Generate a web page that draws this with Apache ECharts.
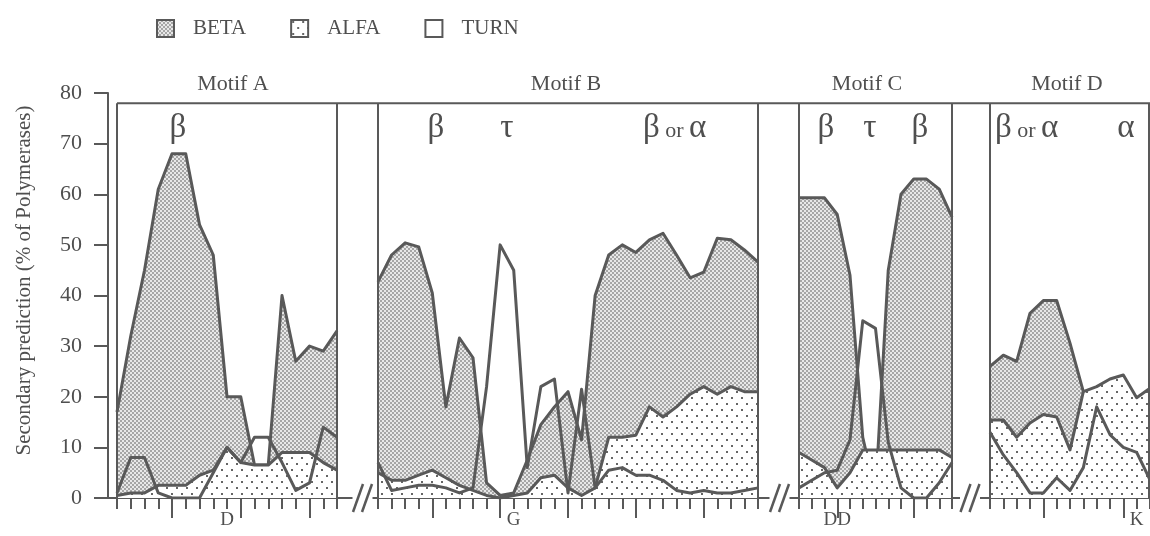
<!DOCTYPE html>
<html>
<head>
<meta charset="utf-8">
<title>Secondary prediction of polymerase motifs</title>
<script src="https://cdn.jsdelivr.net/npm/echarts@6/dist/echarts.min.js"></script>
<style>
  html, body { margin: 0; padding: 0; background: #fff; }
  #chart { width: 1150px; height: 536px; }
</style>
</head>
<body>
<div id="chart"></div>
<script>
// ---- data (% of polymerases) ----
const seriesNames = ["BETA", "ALFA", "TURN"];
const motifNames = ["Motif A", "Motif B", "Motif C", "Motif D"];
const yTicks = [0, 10, 20, 30, 40, 50, 60, 70, 80];

const betaA = [17, 32, 45, 61, 68, 68, 54, 48, 20, 20, 6.5, 6.5, 40, 27, 30, 29, 33];
const alfaA = [0.5, 1, 1, 2.5, 2.5, 2.5, 4.5, 5.5, 10, 7, 6.5, 6.5, 9, 9, 9, 7, 5.5];
const turnA = [1, 8, 8, 1, 0, 0, 0, 5, 10, 7, 12, 12, 7, 1.5, 3, 14, 12];

const betaB = [42.7, 48, 50.4, 49.6, 40.5, 18, 31.6, 27.7, 3, 0.5, 1, 7.5, 14.5, 18, 21, 11.5,
  40, 48, 50, 48.5, 51, 52.3, 48, 43.5, 44.6, 51.3, 51, 49, 46.6];
const alfaB = [5, 3.5, 3.5, 4.5, 5.5, 4, 2.5, 1.5, 0.5, 0, 0.5, 1, 4, 4.5, 2, 0.5,
  2, 12, 12, 12.4, 18, 16, 18, 20.5, 22, 20.5, 22, 21, 21];
const turnB = [7, 1.5, 2, 2.5, 2.5, 2, 1, 2, 22, 50, 45, 6, 22, 23.5, 1, 21.5,
  2, 5.5, 6, 4.5, 4.5, 3.5, 1.5, 1, 1.5, 1, 1, 1.5, 2];

const betaC = [59.3, 59.3, 59.3, 56, 44, 12, 1, 45, 60, 63, 63, 61, 55.5];
const alfaC = [9, 7.5, 6, 2, 5, 9.5, 9.5, 9.5, 9.5, 9.5, 9.5, 9.5, 8];
const turnC = [2, 3.5, 5, 5.5, 11.5, 35, 33.5, 11, 2, 0, 0, 3, 7];

// beta runs under the alfa area after the 8th residue of motif D
const betaD = [26, 28.2, 27, 36.5, 39, 39, 30.6, 21, null, null, null, null, null];
const alfaD = [15.4, 15.4, 12, 14.8, 16.5, 16, 9.5, 21, 22, 23.5, 24.3, 19.8, 21.7];
const turnD = [13, 8.5, 5, 1, 1, 4, 1.5, 6, 18, 12.5, 10, 9, 3.6];

// residue marks under the axis
const residueLabels = ["D", "G", "DD", "K"];
const residueIndex = [8, 10, 3, 11];
const majorTicks = [[4, 9, 14], [4, 9, 14, 19, 24], [3, 9], [4, 10]];

// structure annotations written inside the panels
const annotations = [["β"], ["β", "τ", "β or α"], ["β", "τ", "β"], ["β or α", "α"]];

const betaData = [betaA, betaB, betaC, betaD];
const alfaData = [alfaA, alfaB, alfaC, alfaD];
const turnData = [turnA, turnB, turnC, turnD];

// ---- layout ----
const LINE = "#595959";
const TEXT = "#4f4f4f";
const SERIF = "'Liberation Serif', 'DejaVu Serif', serif";

const panelLeft = [117, 378, 799, 990];
const panelWidth = [220, 380, 153, 160];
const gridTop = 93;
const gridHeight = 405;
const frameTopValue = 78;
const motifX = [233, 566, 867, 1067];
const annotationX = [[178], [436, 507, 643], [826, 870, 920], [995, 1126]];
const breakShift = [5, 1, -1];

function yPix(v) {
  return gridTop + gridHeight * (1 - v / yTicks[yTicks.length - 1]);
}

function makePattern(w, h, bg, dots, size, color) {
  const c = document.createElement("canvas");
  c.width = w;
  c.height = h;
  const ctx = c.getContext("2d");
  ctx.fillStyle = bg;
  ctx.fillRect(0, 0, w, h);
  ctx.fillStyle = color;
  dots.forEach(([x, y]) => ctx.fillRect(x, y, size, size));
  return { image: c, repeat: "repeat" };
}

const densePattern = makePattern(4, 4, "#e8e8e8", [[0, 0], [2, 2]], 2, "#a6a6a6");
const sparsePattern = makePattern(10, 12, "#ffffff", [[1, 1], [6, 7]], 2, "#666666");
const fills = [densePattern, sparsePattern, "#ffffff"];

const chart = echarts.init(document.getElementById("chart"), null, { renderer: "canvas" });

const grid = panelLeft.map((left, p) => ({
  left: left,
  top: gridTop,
  width: panelWidth[p],
  height: gridHeight,
}));

const xAxis = [];
panelLeft.forEach((_, p) => {
  const cats = betaData[p].map((_, i) => i);
  xAxis.push({
    gridIndex: p,
    type: "category",
    position: "bottom",
    data: cats,
    boundaryGap: false,
    axisLine: { show: true, onZero: false, lineStyle: { color: LINE, width: 2 } },
    axisTick: { show: true, interval: 0, length: 11, lineStyle: { color: LINE, width: 2 } },
    axisLabel: { show: false },
    splitLine: { show: false },
  });
  xAxis.push({
    gridIndex: p,
    type: "category",
    position: "bottom",
    data: cats,
    boundaryGap: false,
    axisLine: { show: false, onZero: false },
    axisTick: {
      show: true,
      interval: (i) => majorTicks[p].includes(i),
      length: 20,
      lineStyle: { color: LINE, width: 2 },
    },
    axisLabel: {
      show: true,
      interval: (i) => i === residueIndex[p],
      formatter: () => residueLabels[p],
      margin: 13,
      fontFamily: SERIF,
      fontSize: 19,
      color: TEXT,
    },
    splitLine: { show: false },
  });
});

const yAxis = panelLeft.map((_, p) => ({
  gridIndex: p,
  type: "value",
  min: yTicks[0],
  max: yTicks[yTicks.length - 1],
  interval: yTicks[1] - yTicks[0],
  show: p === 0,
  offset: 9,
  axisLine: { show: true, lineStyle: { color: LINE, width: 2 } },
  axisTick: { show: true, inside: false, length: 14, lineStyle: { color: LINE, width: 2 } },
  axisLabel: { margin: 26, fontFamily: SERIF, fontSize: 22, color: TEXT },
  splitLine: { show: false },
  name: p === 0 ? "Secondary prediction (% of Polymerases)" : "",
  nameLocation: "middle",
  nameGap: 73,
  nameTextStyle: { fontFamily: SERIF, fontSize: 21, color: TEXT, padding: [0, 0, 0, 30] },
}));

const series = [];
panelLeft.forEach((_, p) => {
  [betaData, alfaData, turnData].forEach((arr, k) => {
    const s = {
      name: seriesNames[k],
      type: "line",
      xAxisIndex: p * 2,
      yAxisIndex: p,
      data: arr[p],
      symbol: "none",
      silent: true,
      lineStyle: { color: LINE, width: 3, join: "round" },
      itemStyle: { color: LINE },
      z: 2 + k,
    };
    if (k < 2) {
      s.areaStyle = { color: fills[k], opacity: 1 };
    }
    series.push(s);
  });
});

// frame, broken baseline, titles and annotations
const graphic = [];
const y0 = yPix(0);
const yTop = yPix(frameTopValue);
const lastRight = panelLeft[3] + panelWidth[3] - 1;

graphic.push({
  type: "line", z: 50,
  shape: { x1: panelLeft[0], y1: yTop, x2: lastRight + 1, y2: yTop },
  style: { stroke: LINE, lineWidth: 2 },
});
panelLeft.forEach((left, p) => {
  const right = p === 3 ? lastRight : left + panelWidth[p];
  [left, right].forEach((x) => {
    graphic.push({
      type: "line", z: 50,
      shape: { x1: x, y1: yTop, x2: x, y2: y0 },
      style: { stroke: LINE, lineWidth: 2 },
    });
  });
  graphic.push({
    type: "text", z: 60, x: motifX[p], y: 84,
    style: { text: motifNames[p], fontFamily: SERIF, fontSize: 22, fill: TEXT, align: "center", verticalAlign: "middle" },
  });
  annotations[p].forEach((a, j) => {
    const parts = a.split(" or ");
    const text = parts.length > 1 ? "{g|" + parts[0] + "}{o| or }{g|" + parts[1] + "}" : "{g|" + a + "}";
    graphic.push({
      type: "text", z: 60, x: annotationX[p][j], y: 128,
      style: {
        text: text,
        align: parts.length > 1 ? "left" : "center",
        verticalAlign: "middle",
        rich: {
          g: { fontFamily: SERIF, fontSize: 33, fill: TEXT, verticalAlign: "bottom" },
          o: { fontFamily: SERIF, fontSize: 22, fill: TEXT, verticalAlign: "bottom", padding: [0, 0, 2, 0] },
        },
      },
    });
  });
});

// baseline pieces outside the panels and the // breaks
const baseSegs = [[panelLeft[0] - 9, panelLeft[0]]];
for (let p = 0; p < 3; p++) {
  const a = panelLeft[p] + panelWidth[p];
  const b = panelLeft[p + 1];
  const c = (a + b) / 2 + breakShift[p];
  baseSegs.push([a, c - 10], [c + 10, b]);
  [c - 4.5, c + 4.5].forEach((cx) => {
    graphic.push({
      type: "line", z: 50,
      shape: { x1: cx - 5, y1: y0 + 14, x2: cx + 5, y2: y0 - 14 },
      style: { stroke: LINE, lineWidth: 2.5 },
    });
  });
}
baseSegs.forEach(([a, b]) => {
  graphic.push({
    type: "line", z: 50,
    shape: { x1: a, y1: y0, x2: b, y2: y0 },
    style: { stroke: LINE, lineWidth: 2 },
  });
});

chart.setOption({
  animation: false,
  backgroundColor: "#ffffff",
  legend: {
    left: 151,
    top: 13,
    itemWidth: 17,
    itemHeight: 17,
    itemGap: 44,
    icon: "rect",
    selectedMode: false,
    textStyle: { fontFamily: SERIF, fontSize: 21, color: TEXT, padding: [2, 0, 0, 14] },
    data: seriesNames.map((n, k) => ({
      name: n,
      itemStyle: { color: fills[k], borderColor: LINE, borderWidth: 2 },
    })),
  },
  grid: grid,
  xAxis: xAxis,
  yAxis: yAxis,
  series: series,
  graphic: graphic,
});

window.addEventListener("resize", () => chart.resize());
</script>
</body>
</html>
